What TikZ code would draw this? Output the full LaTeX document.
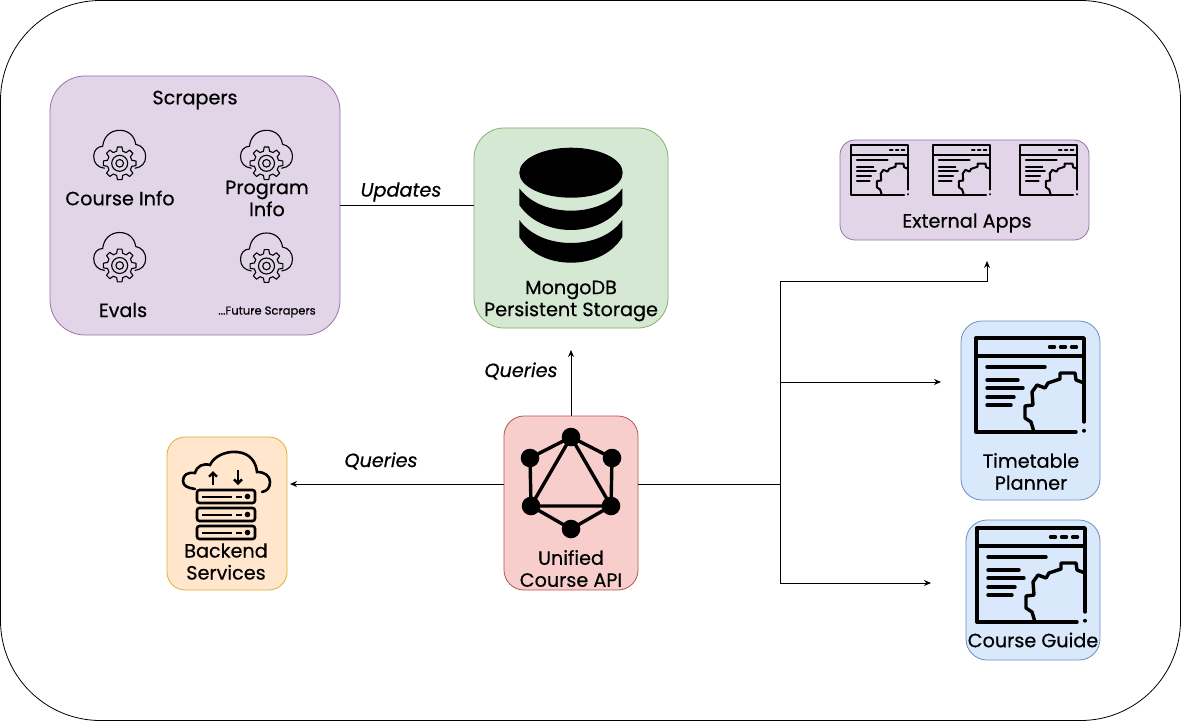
\documentclass[tikz,border=0pt]{standalone}
\usepackage{fontspec}
\usepackage{xcolor}
\setmainfont{Poppins}[RawFeature={embolden=0.5}]
\usetikzlibrary{arrows.meta}
\definecolor{panelpurple}{HTML}{E1D5E7}
\definecolor{edgepurple}{HTML}{9673A6}
\definecolor{panelgreen}{HTML}{D5E8D4}
\definecolor{edgegreen}{HTML}{82B366}
\definecolor{panelblue}{HTML}{DAE8FC}
\definecolor{edgeblue}{HTML}{6C8EBF}
\definecolor{panelred}{HTML}{F8CECC}
\definecolor{edgered}{HTML}{B85450}
\definecolor{panelorange}{HTML}{FFE6CC}
\definecolor{edgeorange}{HTML}{E3AE2E}
\tikzset{
  cloudgear/.pic={
    \draw[line width=1.1pt, line join=round]
      (-15,5) .. controls (-22,4) and (-26,0) .. (-26,-7)
      .. controls (-26,-13) and (-22,-17) .. (-17,-17)
      .. controls (-16,-27) and (-9,-33) .. (0,-33)
      .. controls (9,-33) and (15,-27) .. (16,-19)
      .. controls (22,-18) and (26,-13) .. (26,-7)
      .. controls (26,0) and (22,4) .. (15,5);
    \draw[line width=1.1pt, line join=round] (-14:12.5)
      foreach \a in {0,45,...,315} {
        -- ({\a-14}:12.5) -- ({\a-8}:16.5) -- ({\a+8}:16.5) -- ({\a+14}:12.5)
      } -- cycle;
    \draw[line width=1.1pt] (0,0) circle[radius=8];
    \draw[line width=1.1pt] (0,0) circle[radius=3.8];
  },
  appwindow/.pic={
    \draw[line cap=round] (108,92.5) -- (108,93);
    \draw[line cap=round, line join=round]
      (100,94) -- (0,94) -- (0,0) -- (108,0) -- (108,84);
    \draw (0,18) -- (108,18);
    \foreach \dotx in {76,87,98}
      \draw[line cap=round] (\dotx-2.5,9) -- (\dotx+2.5,9);
    \draw[line cap=round] (11,29) -- (69,29);
    \draw[line cap=round] (11,42) -- (42,42);
    \draw[line cap=round] (11,50) -- (47,50);
    \draw[line cap=round] (11,59) -- (38,59);
    \draw[line cap=round] (11,67) -- (35,67);
    \draw[line join=round]
      (58,94) -- (55,84) -- (49,80) -- (49,68) -- (57,67) -- (56,54)
      -- (61,47) -- (69,50) -- (72,45) -- (84,41) -- (84,35) -- (99,35)
      -- (100,42) -- (108,45);
  }
}

\begin{document}
\begin{tikzpicture}[
  x=1pt,
  y=-1pt,
  every node/.style={inner sep=0pt},
  caption/.style={font=\fontsize{19.2}{22}\selectfont, align=center, text=black},
  linklabel/.style={font=\fontsize{19.2}{22}\selectfont\itshape, text=black},
  link/.style={black, line width=0.8pt},
  linkarrow/.style={link, -{Stealth[length=7pt, width=6pt]}},
  purplepanel/.style={draw=edgepurple, fill=panelpurple, line width=0.8pt},
  greenpanel/.style={draw=edgegreen, fill=panelgreen, line width=0.8pt},
  bluepanel/.style={draw=edgeblue, fill=panelblue, line width=0.8pt},
  redpanel/.style={draw=edgered, fill=panelred, line width=0.8pt},
  orangepanel/.style={draw=edgeorange, fill=panelorange, line width=0.8pt}
]
  \useasboundingbox (0,0) rectangle (1182,722);
  \draw[black, line width=0.8pt, rounded corners=100pt] (0.5,0.5) rectangle (1180.5,720.5);

  % ---- panels ----------------------------------------------------------
  \node[purplepanel, rounded corners=35pt, minimum width=290pt, minimum height=259pt] (scrapers) at (195,205.5) {};
  \node[greenpanel, rounded corners=30pt, minimum width=194pt, minimum height=200pt] (mongo) at (571,228) {};
  \node[purplepanel, rounded corners=15pt, minimum width=249pt, minimum height=100pt] (external) at (964.5,190) {};
  \node[bluepanel, rounded corners=21pt, minimum width=139pt, minimum height=179pt] (timetable) at (1030.5,410.5) {};
  \node[bluepanel, rounded corners=21pt, minimum width=134pt, minimum height=140pt] (guide) at (1033,590) {};
  \node[redpanel, rounded corners=20pt, minimum width=134pt, minimum height=174pt] (api) at (571,503) {};
  \node[orangepanel, rounded corners=18pt, minimum width=120pt, minimum height=153pt] (backend) at (227,513.5) {};

  % ---- scraper icons ---------------------------------------------------
  \pic at (119.7,163.3) {cloudgear};
  \pic at (266.5,163.3) {cloudgear};
  \pic at (119.7,265.5) {cloudgear};
  \pic at (266.5,266) {cloudgear};

  % ---- database --------------------------------------------------------
  \fill[black] (571,172.7) ellipse[x radius=51.7, y radius=25];
  \fill[black] (519.3,188.3) .. controls (530,203) and (550,210.7) .. (571,210.7)
    .. controls (592,210.7) and (612,203) .. (622.3,188.3) -- (622.3,205)
    .. controls (612,221) and (592,230) .. (571,230)
    .. controls (550,230) and (530,221) .. (519.3,205) -- cycle;
  \fill[black] (519.3,220) .. controls (530,235) and (550,243) .. (571,243)
    .. controls (592,243) and (612,235) .. (622.3,220) -- (622.3,237)
    .. controls (612,254) and (592,262.7) .. (571,262.7)
    .. controls (550,262.7) and (530,254) .. (519.3,237) -- cycle;

  % ---- app windows -----------------------------------------------------
  \pic[scale=0.53, line width=2pt] at (851,145) {appwindow};
  \pic[scale=0.53, line width=2pt] at (933,145) {appwindow};
  \pic[scale=0.53, line width=2pt] at (1020,145) {appwindow};
  \pic[line width=3.4pt] at (976,338) {appwindow};
  \pic[line width=3.4pt] at (977,528) {appwindow};

  % ---- graph icon ------------------------------------------------------
  \foreach \gname/\gpos in {gt/{571,437}, gul/{530,458}, gur/{612,458}, gll/{531,506}, glr/{611,506}, gb/{571,529}}
    \coordinate (\gname) at (\gpos);
  \draw[black, line width=3.4pt] (gt) -- (gur) -- (glr) -- (gb) -- (gll) -- (gul) -- cycle;
  \draw[black, line width=3.4pt] (gt) -- (glr) -- (gll) -- cycle;
  \foreach \gname in {gt,gul,gur,gll,glr,gb}
    \fill[black] (\gname) circle[radius=9.3];

  % ---- server icon -----------------------------------------------------
  \draw[black, line width=2.6pt, line cap=round]
    (195,489) .. controls (188,488) and (183,486) .. (183,481)
    .. controls (183,475) and (187,472) .. (195,473)
    .. controls (197,466) and (203,463) .. (210,465)
    .. controls (214,456) and (226,451) .. (237,452)
    .. controls (250,453) and (256,462) .. (257,472)
    .. controls (265,472) and (270,476) .. (270,482)
    .. controls (270,488) and (267,491) .. (262,492);
  \draw[black, line width=2.4pt, -{Straight Barb[length=4pt, width=8pt]}] (213,485) -- (213,471);
  \draw[black, line width=2.4pt, -{Straight Barb[length=4pt, width=8pt]}] (238,470) -- (238,485);
  \foreach \srvy in {490,508,526} {
    \draw[black, line width=2.6pt, rounded corners=2.5pt] (197,\srvy) rectangle (255,\srvy+13);
    \draw[black, line width=2pt] (202,\srvy+6.5) -- (232,\srvy+6.5);
    \draw[black, line width=2pt] (236,\srvy+6.5) -- (242,\srvy+6.5);
    \fill[black] (247.5,\srvy+6.5) circle[radius=2.8];
  }

  % ---- captions --------------------------------------------------------
  \node[caption] (scraperstitle) at (195,100) {Scrapers};
  \node[caption] (courseinfo) at (120,198) {Course Info};
  \node[caption] (programinfo) at (267,198.5) {Program\\Info};
  \node[caption] (evals) at (123,310) {Evals};
  \node[font=\fontsize{11.5}{12}\selectfont] (future) at (267,312) {...Future Scrapers};
  \node[caption] (mongotext) at (571,301) {MongoDB\\Persistent Storage};
  \node[caption] (externaltext) at (967,223) {External Apps};
  \node[caption] (timetabletext) at (1031,471.5) {Timetable\\Planner};
  \node[caption] (guidetext) at (1033,640) {Course Guide};
  \node[caption] (apitext) at (571,568.5) {Unified\\Course API};
  \node[caption] (backendtext) at (226,561.5) {Backend\\Services};

  % ---- connectors ------------------------------------------------------
  \coordinate (scrapersout) at (scrapers.east);
  \coordinate (apileft) at (api.west |- 0,484);
  \coordinate (apiright) at (api.east |- 0,484);
  \coordinate (fork) at (780,484);
  \coordinate (backendend) at (290,484);
  \coordinate (mongoend) at (571,350);
  \coordinate (externalend) at (987,261);
  \coordinate (timetableend) at (941,382);
  \coordinate (guideend) at (931,583);

  \draw[link] (scrapers.east) -- (mongo.west |- scrapersout);
  \draw[linkarrow] (api.north) -- (mongoend);
  \draw[linkarrow] (apileft) -- (backendend);
  \draw[link] (apiright) -- (fork);
  \draw[linkarrow] (fork) -- (780,281) -| (externalend);
  \draw[linkarrow] (780,382) -- (timetableend);
  \draw[linkarrow] (fork) |- (guideend);

  \node[linklabel] (updateslabel) at (401,192) {Updates};
  \node[linklabel] (queriesup) at (521,371) {Queries};
  \node[linklabel] (queriesleft) at (381,461) {Queries};
\end{tikzpicture}
\end{document}
